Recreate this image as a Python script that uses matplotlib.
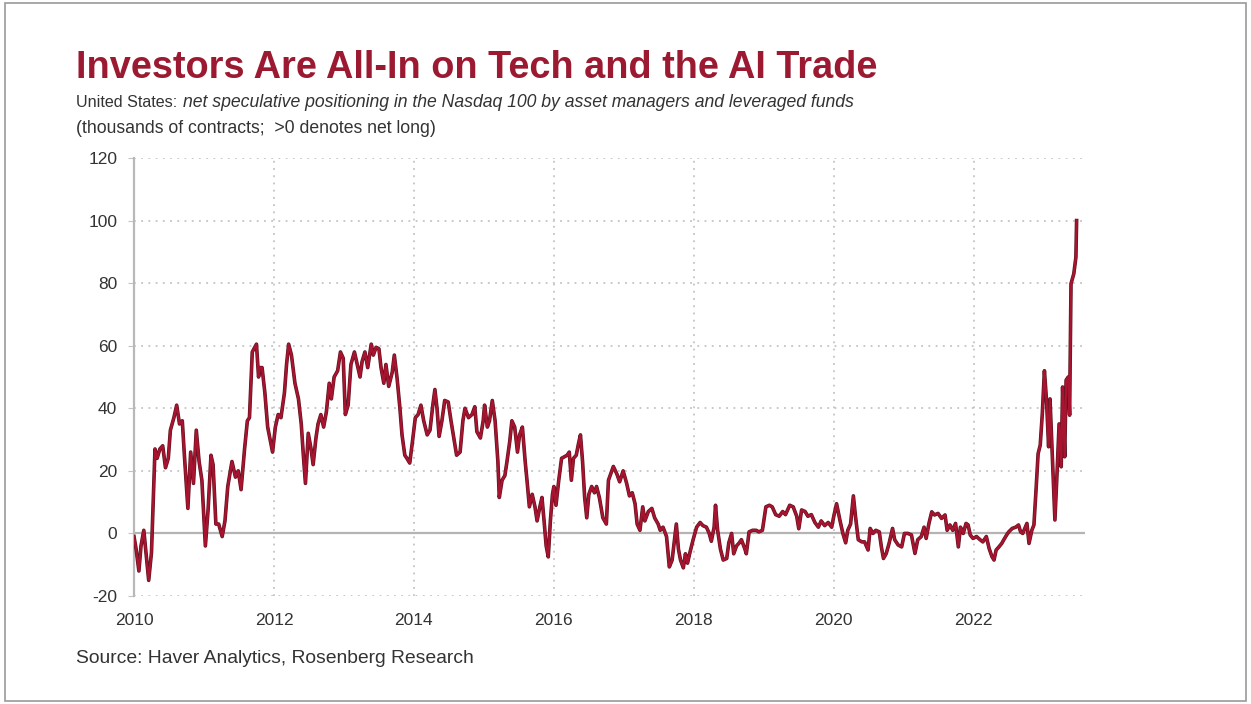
import matplotlib
matplotlib.use("Agg")
import matplotlib.pyplot as plt
import matplotlib.patheffects as pe
from matplotlib.patches import Rectangle

plt.rcParams["axes.unicode_minus"] = False

# weekly-ish readings of net speculative positioning (thousands of contracts), decimal years
years = [
    2010.00, 2010.03, 2010.07, 2010.10, 2010.14, 2010.18, 2010.21, 2010.25, 2010.30, 2010.33,
    2010.37, 2010.41, 2010.45, 2010.49, 2010.52, 2010.57, 2010.61, 2010.65, 2010.69, 2010.72,
    2010.77, 2010.81, 2010.85, 2010.89, 2010.93, 2010.97, 2011.02, 2011.06, 2011.10, 2011.13,
    2011.17, 2011.21, 2011.26, 2011.30, 2011.34, 2011.40, 2011.45, 2011.49, 2011.53, 2011.58,
    2011.62, 2011.65, 2011.69, 2011.75, 2011.78, 2011.80, 2011.83, 2011.87, 2011.91, 2011.94,
    2011.98, 2012.02, 2012.06, 2012.10, 2012.15, 2012.18, 2012.21, 2012.25, 2012.30, 2012.35,
    2012.39, 2012.42, 2012.45, 2012.49, 2012.53, 2012.56, 2012.60, 2012.63, 2012.67, 2012.71,
    2012.75, 2012.79, 2012.82, 2012.86, 2012.91, 2012.95, 2012.99, 2013.02, 2013.06, 2013.10,
    2013.15, 2013.19, 2013.23, 2013.26, 2013.30, 2013.34, 2013.39, 2013.42, 2013.46, 2013.50,
    2013.53, 2013.57, 2013.60, 2013.64, 2013.69, 2013.72, 2013.76, 2013.80, 2013.83, 2013.87,
    2013.90, 2013.94, 2013.98, 2014.02, 2014.06, 2014.10, 2014.14, 2014.19, 2014.23, 2014.27,
    2014.30, 2014.33, 2014.36, 2014.40, 2014.44, 2014.49, 2014.53, 2014.57, 2014.61, 2014.66,
    2014.70, 2014.73, 2014.78, 2014.83, 2014.87, 2014.90, 2014.95, 2014.99, 2015.01, 2015.05,
    2015.08, 2015.12, 2015.16, 2015.20, 2015.22, 2015.26, 2015.30, 2015.33, 2015.37, 2015.40,
    2015.44, 2015.48, 2015.51, 2015.55, 2015.59, 2015.62, 2015.65, 2015.69, 2015.73, 2015.76,
    2015.80, 2015.83, 2015.86, 2015.89, 2015.92, 2015.95, 2015.98, 2016.00, 2016.03, 2016.07,
    2016.11, 2016.15, 2016.19, 2016.22, 2016.25, 2016.28, 2016.32, 2016.35, 2016.38, 2016.41,
    2016.44, 2016.47, 2016.50, 2016.54, 2016.58, 2016.61, 2016.65, 2016.70, 2016.75, 2016.78,
    2016.85, 2016.90, 2016.94, 2016.99, 2017.04, 2017.08, 2017.12, 2017.16, 2017.19, 2017.23,
    2017.27, 2017.30, 2017.35, 2017.40, 2017.44, 2017.49, 2017.52, 2017.56, 2017.61, 2017.65,
    2017.69, 2017.73, 2017.75, 2017.78, 2017.81, 2017.85, 2017.88, 2017.91, 2017.94, 2017.99,
    2018.04, 2018.09, 2018.13, 2018.18, 2018.22, 2018.25, 2018.29, 2018.31, 2018.34, 2018.38,
    2018.42, 2018.47, 2018.50, 2018.54, 2018.57, 2018.61, 2018.65, 2018.68, 2018.73, 2018.75,
    2018.79, 2018.84, 2018.89, 2018.93, 2018.98, 2019.03, 2019.08, 2019.12, 2019.17, 2019.22,
    2019.27, 2019.31, 2019.37, 2019.42, 2019.47, 2019.50, 2019.54, 2019.59, 2019.63, 2019.68,
    2019.73, 2019.78, 2019.82, 2019.87, 2019.92, 2019.97, 2020.00, 2020.04, 2020.09, 2020.13,
    2020.17, 2020.20, 2020.24, 2020.28, 2020.31, 2020.35, 2020.40, 2020.44, 2020.49, 2020.52,
    2020.56, 2020.60, 2020.65, 2020.68, 2020.71, 2020.75, 2020.79, 2020.84, 2020.87, 2020.92,
    2020.97, 2021.01, 2021.06, 2021.11, 2021.16, 2021.20, 2021.25, 2021.29, 2021.32, 2021.36,
    2021.40, 2021.44, 2021.49, 2021.54, 2021.59, 2021.62, 2021.66, 2021.70, 2021.74, 2021.78,
    2021.81, 2021.85, 2021.89, 2021.92, 2021.95, 2021.99, 2022.04, 2022.09, 2022.13, 2022.18,
    2022.22, 2022.26, 2022.29, 2022.32, 2022.36, 2022.40, 2022.43, 2022.47, 2022.50, 2022.55,
    2022.60, 2022.64, 2022.67, 2022.70, 2022.73, 2022.76, 2022.79, 2022.83, 2022.86, 2022.89,
    2022.92, 2022.95, 2022.98, 2023.01, 2023.04, 2023.07, 2023.09, 2023.11, 2023.14, 2023.16,
    2023.19, 2023.22, 2023.25, 2023.27, 2023.30, 2023.32, 2023.35, 2023.37, 2023.39, 2023.43,
    2023.46, 2023.47,
]
net_pos = [
    -1, -5, -12, -4, 1, -8, -15, -6, 27, 24,
    27, 28, 21, 24, 33, 37, 41, 35, 36, 25,
    8, 26, 16, 33, 23, 17, -4, 8, 25, 22,
    3, 3, -1, 4, 15, 23, 18, 20, 14, 27,
    36, 37, 58, 60.5, 50, 53, 53, 45, 34, 30.5,
    26, 34, 38, 37, 45, 54, 60.5, 57, 48, 43,
    35, 25, 16, 32, 27, 22, 30.5, 35, 38, 34,
    39, 48, 43, 50, 52, 58, 56, 38, 41, 54,
    58, 54, 50, 55, 58, 53, 60.5, 57, 59.5, 59,
    53, 48, 54, 47, 51.5, 57, 49.5, 40, 31.5, 25,
    24, 22.5, 29.5, 37, 38, 41, 36, 31.5, 33, 41,
    46, 40, 31, 36, 42.5, 42, 36, 30.5, 25, 26,
    36, 40, 37, 38, 40.5, 32.5, 30.5, 36, 41, 34,
    36, 42.5, 36, 23, 11.5, 17, 18.5, 23, 29.5, 36,
    34, 26, 31.5, 34, 23, 16, 8.5, 12.5, 8.5, 4,
    8.5, 11.5, 4, -4, -7.5, 4, 12.5, 15, 9, 17,
    24, 24.5, 25, 26, 17, 24, 25, 28.5, 31.5, 23,
    11.5, 5, 12.5, 15, 13, 15, 11.5, 5, 3, 17,
    21.4, 19, 16.5, 20, 16, 12, 13, 9.5, 3, 1,
    8.5, 4, 7, 8, 5, 3, 1, 2, -1, -10.7,
    -8.5, -1, 3, -5, -8.5, -11, -6.5, -9.5, -6.5, -2,
    2, 3.5, 2.5, 2, 0, -2.5, 2, 9, 1, -5,
    -8.5, -8, -3, 0, -6.5, -4, -3, -2, -5, -6.5,
    0.5, 1, 1, 0.5, 1, 8.5, 9, 8.5, 6, 5.5,
    7, 6, 9, 8.5, 5.5, 1.5, 7.5, 7, 5.5, 6,
    3.5, 2, 4, 2.5, 3.5, 2, 5.5, 9.5, 4, 0,
    -3, 1, 3, 12, 5.5, -2, -2.7, -2.7, -5.3, 1.6,
    0, 1, 0.5, -4.3, -8, -6.4, -3.2, 1.6, -2, -3.7,
    -4.3, 0, 0, -0.5, -6.4, -2, -1, 2, -1.6, 3.2,
    6.9, 5.9, 6.4, 4.8, 5.9, 1, 2.7, 1, 3.2, -4.3,
    2, 0, 3.2, 2.7, -0.5, -1.6, -1, -2, -2.7, -1,
    -4.8, -7.4, -8.5, -5.3, -4.3, -3.2, -2, -0.5, 0.5, 1.6,
    2, 2.7, 0.5, 0, 1.6, 3.2, -3.2, 1, 2.7, 13.8,
    25.5, 28.2, 38.3, 52, 42.5, 27.7, 43, 32, 14.9, 4.3,
    19, 35, 21.3, 46.8, 24.5, 49, 50, 37.8, 79.8, 83,
    88.3, 100,
]

year_ticks = [2010, 2012, 2014, 2016, 2018, 2020, 2022]
value_ticks = [-20, 0, 20, 40, 60, 80, 100, 120]

title = "Investors Are All-In on Tech and the AI Trade"
sub_lead = "United States: "
sub_italic = "net speculative positioning in the Nasdaq 100 by asset managers and leveraged funds"
sub_line2 = "(thousands of contracts;  >0 denotes net long)"
source = "Source: Haver Analytics, Rosenberg Research"

red = "#9c1a31"
grey_txt = "#333333"
W, H = 1251, 704
fig = plt.figure(figsize=(12.51, 7.04), dpi=100)
fig.patch.set_facecolor("white")
fig.patches.append(Rectangle((0.004, 0.004), 0.992, 0.992, transform=fig.transFigure,
                             fill=False, edgecolor="#9a9a9a", linewidth=1.2))

ax = fig.add_axes([134 / W, 1 - 596 / H, (1085 - 134) / W, (596 - 158) / H])
ax.plot(years, net_pos, color="#a8132f", linewidth=1.7, zorder=3,
        path_effects=[pe.Stroke(linewidth=2.6, foreground="#5c1420"), pe.Normal()])

ax.set_xlim(2010, 2023.59)
ax.set_ylim(-20, 120)
ax.set_xticks(year_ticks)
ax.set_yticks(value_ticks)
ax.grid(True, color="#c4c4c4", linestyle=(0, (1, 3)), linewidth=1.3)
ax.axhline(0, color="#b4b4b4", linewidth=1.6, zorder=2)
for s in ["top", "right", "bottom"]:
    ax.spines[s].set_visible(False)
ax.spines["left"].set_color("#b8b8b8")
ax.spines["left"].set_linewidth(1.6)
ax.tick_params(axis="y", length=4, color="#c4c4c4", pad=8, labelcolor=grey_txt)
ax.tick_params(axis="x", length=0, pad=12, labelcolor=grey_txt)
for lab in ax.get_xticklabels() + ax.get_yticklabels():
    lab.set_family(["Liberation Sans", "DejaVu Sans"])
    lab.set_fontsize(12.5)


def fit_text(x0, x1, y, s, size, **kw):
    # place text starting at pixel x0 and scale its size so it ends at pixel x1
    t = fig.text(x0 / W, 1 - y / H, s, fontsize=size, va="baseline", **kw)
    fig.canvas.draw()
    w = t.get_window_extent().width
    t.set_fontsize(size * (x1 - x0) / w)
    return t


fam = ["Liberation Sans", "DejaVu Sans"]
fit_text(76, 877, 78, title, 28, fontweight="bold", color=red, family=fam)
fit_text(76, 178, 107, sub_lead.strip(), 9, color=grey_txt, family=fam)
fit_text(183, 857, 107, sub_italic, 11, style="italic", color=grey_txt, family=fam)
fit_text(76, 434, 133, sub_line2, 11, color=grey_txt, family=fam)
fit_text(76, 473, 663, source, 12, color=grey_txt, family=fam)

fig.savefig("out.png", dpi=100)
